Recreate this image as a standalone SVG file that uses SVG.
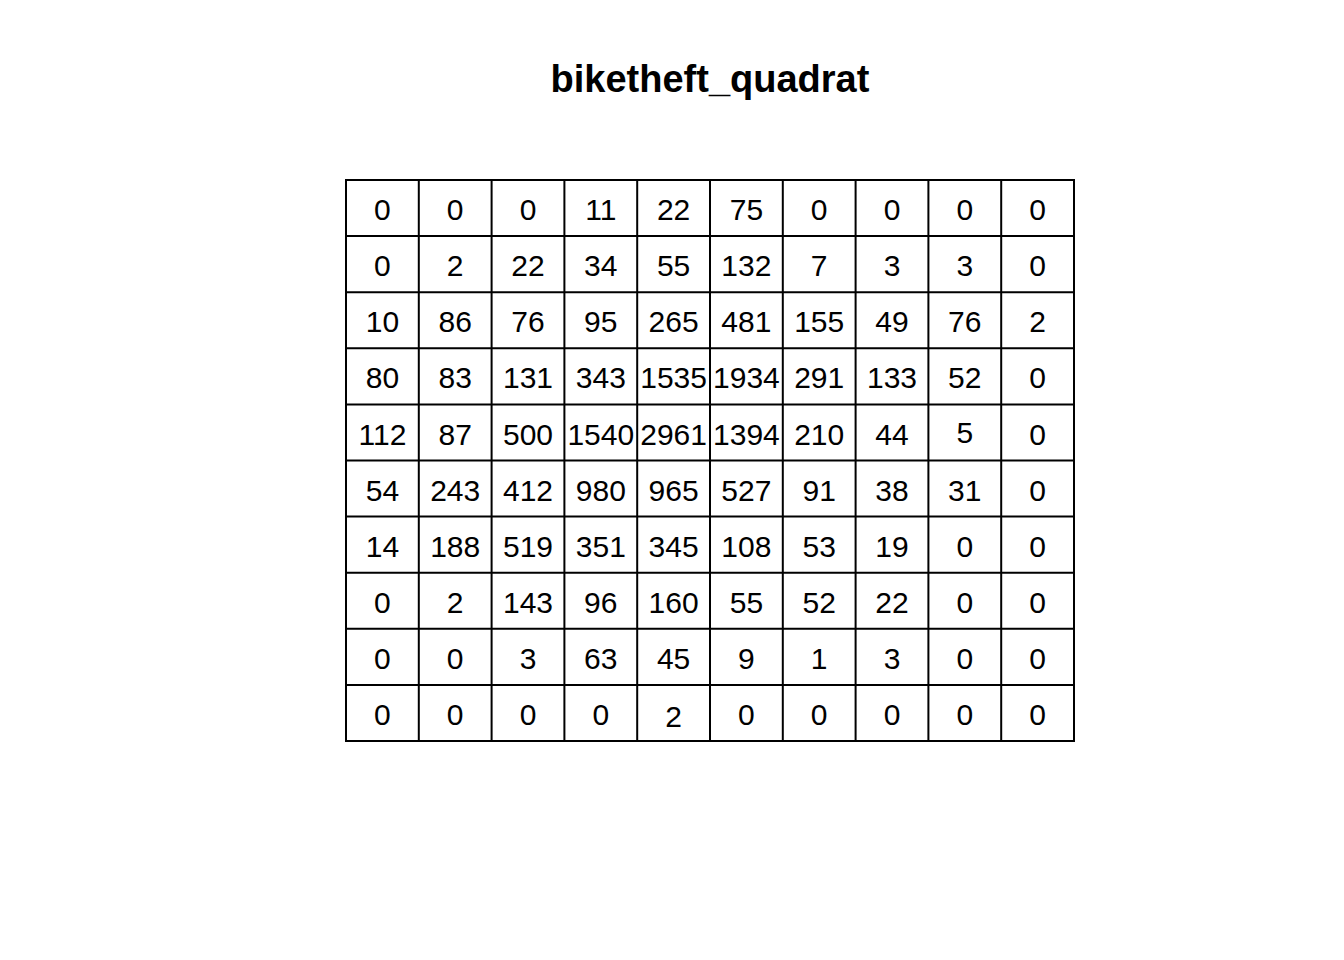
<svg xmlns="http://www.w3.org/2000/svg" width="1344" height="960" viewBox="0 0 1344 960">
<style>
.t{font-family:"Liberation Sans",Arial,sans-serif;font-size:30px;fill:#000;text-anchor:middle}
.title{font-family:"Liberation Sans",Arial,sans-serif;font-size:38px;font-weight:bold;fill:#000;text-anchor:middle}
.g{fill:none;stroke:#000;stroke-width:2}
</style>
<rect width="1344" height="960" fill="#fff"/>
<text class="title" x="710" y="92">biketheft_quadrat</text>
<g id="grid">
<rect class="g" x="346" y="180" width="728" height="561"/>
<path class="g" d="M418.8 180V741M491.6 180V741M564.4 180V741M637.2 180V741M710 180V741M782.8 180V741M855.6 180V741M928.4 180V741M1001.2 180V741M346 236.1H1074M346 292.2H1074M346 348.3H1074M346 404.4H1074M346 460.5H1074M346 516.6H1074M346 572.7H1074M346 628.8H1074M346 684.9H1074"/>
</g>
<g id="row1" class="t">
<text x="382.4" y="220">0</text><text x="455.2" y="220">0</text><text x="528" y="220">0</text><text x="600.8" y="220">11</text><text x="673.6" y="220">22</text><text x="746.4" y="220">75</text><text x="819.2" y="220">0</text><text x="892" y="220">0</text><text x="964.8" y="220">0</text><text x="1037.6" y="220">0</text>
</g>
<g id="row2" class="t">
<text x="382.4" y="276.2">0</text><text x="455.2" y="276.2">2</text><text x="528" y="276.2">22</text><text x="600.8" y="276.2">34</text><text x="673.6" y="276.2">55</text><text x="746.4" y="276.2">132</text><text x="819.2" y="276.2">7</text><text x="892" y="276.2">3</text><text x="964.8" y="276.2">3</text><text x="1037.6" y="276.2">0</text>
</g>
<g id="row3" class="t">
<text x="382.4" y="332.3">10</text><text x="455.2" y="332.3">86</text><text x="528" y="332.3">76</text><text x="600.8" y="332.3">95</text><text x="673.6" y="332.3">265</text><text x="746.4" y="332.3">481</text><text x="819.2" y="332.3">155</text><text x="892" y="332.3">49</text><text x="964.8" y="332.3">76</text><text x="1037.6" y="332.3">2</text>
</g>
<g id="row4" class="t">
<text x="382.4" y="388.4">80</text><text x="455.2" y="388.4">83</text><text x="528" y="388.4">131</text><text x="600.8" y="388.4">343</text><text x="673.6" y="388.4">1535</text><text x="746.4" y="388.4">1934</text><text x="819.2" y="388.4">291</text><text x="892" y="388.4">133</text><text x="964.8" y="388.4">52</text><text x="1037.6" y="388.4">0</text>
</g>
<g id="row5" class="t">
<text x="382.4" y="444.5">112</text><text x="455.2" y="444.5">87</text><text x="528" y="444.5">500</text><text x="600.8" y="444.5">1540</text><text x="673.6" y="444.5">2961</text><text x="746.4" y="444.5">1394</text><text x="819.2" y="444.5">210</text><text x="892" y="444.5">44</text><text x="964.8" y="443">5</text><text x="1037.6" y="444.5">0</text>
</g>
<g id="row6" class="t">
<text x="382.4" y="500.6">54</text><text x="455.2" y="500.6">243</text><text x="528" y="500.6">412</text><text x="600.8" y="500.6">980</text><text x="673.6" y="500.6">965</text><text x="746.4" y="500.6">527</text><text x="819.2" y="500.6">91</text><text x="892" y="500.6">38</text><text x="964.8" y="500.6">31</text><text x="1037.6" y="500.6">0</text>
</g>
<g id="row7" class="t">
<text x="382.4" y="556.7">14</text><text x="455.2" y="556.7">188</text><text x="528" y="556.7">519</text><text x="600.8" y="556.7">351</text><text x="673.6" y="556.7">345</text><text x="746.4" y="556.7">108</text><text x="819.2" y="556.7">53</text><text x="892" y="556.7">19</text><text x="964.8" y="556.7">0</text><text x="1037.6" y="556.7">0</text>
</g>
<g id="row8" class="t">
<text x="382.4" y="612.8">0</text><text x="455.2" y="612.8">2</text><text x="528" y="612.8">143</text><text x="600.8" y="612.8">96</text><text x="673.6" y="612.8">160</text><text x="746.4" y="612.8">55</text><text x="819.2" y="612.8">52</text><text x="892" y="612.8">22</text><text x="964.8" y="612.8">0</text><text x="1037.6" y="612.8">0</text>
</g>
<g id="row9" class="t">
<text x="382.4" y="668.9">0</text><text x="455.2" y="668.9">0</text><text x="528" y="668.9">3</text><text x="600.8" y="668.9">63</text><text x="673.6" y="668.9">45</text><text x="746.4" y="668.9">9</text><text x="819.2" y="668.9">1</text><text x="892" y="668.9">3</text><text x="964.8" y="668.9">0</text><text x="1037.6" y="668.9">0</text>
</g>
<g id="row10" class="t">
<text x="382.4" y="725">0</text><text x="455.2" y="725">0</text><text x="528" y="725">0</text><text x="600.8" y="725">0</text><text x="673.6" y="726.5">2</text><text x="746.4" y="725">0</text><text x="819.2" y="725">0</text><text x="892" y="725">0</text><text x="964.8" y="725">0</text><text x="1037.6" y="725">0</text>
</g>
</svg>
